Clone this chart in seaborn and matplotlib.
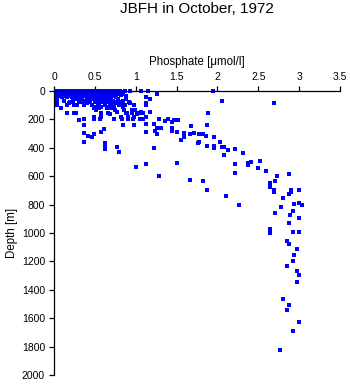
import matplotlib
matplotlib.use("Agg")
import matplotlib.pyplot as plt
import seaborn as sns
import pandas as pd

# ---------------- data (phosphate [umol/l], depth [m]) ----------------
surface_phosphate = [
    0.02, 0.06, 0.10, 0.14, 0.18, 0.22, 0.26, 0.30, 0.34, 0.38, 0.42, 0.46, 0.50, 0.54, 0.58, 0.62, 0.67, 0.72, 0.76, 0.81, 0.87, 0.93, 1.07, 1.15, 1.94,
    0.02, 0.06, 0.10, 0.14, 0.18, 0.22, 0.26, 0.30, 0.34, 0.38, 0.42, 0.46, 0.50, 0.54, 0.58, 0.63, 0.68, 0.74, 0.80, 0.85,
    0.02, 0.06, 0.10, 0.14, 0.18, 0.22, 0.26, 0.30, 0.34, 0.38, 0.42, 0.46, 0.50, 0.54, 0.58, 0.62, 0.70, 0.78, 0.83, 1.26,
    0.02, 0.06, 0.10, 0.14, 0.18, 0.22, 0.26, 0.30, 0.34, 0.38, 0.42, 0.46, 0.50, 0.54, 0.60, 0.66, 0.72, 0.82,
    0.02, 0.06, 0.10, 0.14, 0.20, 0.26, 0.30, 0.36, 0.40, 0.46, 0.50, 0.55, 0.60, 0.66, 0.74, 0.88,
    0.04, 0.10, 0.16, 0.22, 0.28, 0.34, 0.40, 0.46, 0.52, 0.56, 0.62, 0.70, 0.76, 1.12,
]
surface_depth = (
    [2] * 25 + [10] * 20 + [18] * 20 + [26] * 18 + [34] * 16 + [42] * 14
)

upper_phosphate = [
    0.26, 0.33, 0.40, 0.45, 0.50, 0.55, 0.60, 0.65, 0.70, 0.78, 0.88, 1.17,
    0.04, 0.12, 0.23, 0.30, 0.36, 0.42, 0.50, 0.55, 0.60, 0.66, 0.72, 0.78, 0.85, 2.06,
    0.20, 0.33, 0.44, 0.52, 0.58, 0.64, 0.70, 0.76, 0.82, 0.92,
    0.18, 0.40, 0.54, 0.62, 0.68, 0.75, 0.82, 0.93, 1.12, 2.69,
    0.04, 0.16, 0.25, 0.28, 0.37, 0.47, 0.55, 0.62, 0.70, 0.80, 0.87, 0.98, 1.12,
    0.50, 0.58, 0.66, 0.74, 0.84,
    0.09, 0.49, 0.55, 0.65, 0.70,
    0.52, 0.75, 0.86, 0.95, 0.99,
    0.77, 1.07, 1.17,
    0.57, 0.88, 1.04, 1.08, 1.89,
    0.16, 0.25, 0.275, 0.66, 0.89, 0.96, 1.09,
    0.68, 1.01,
    0.57, 0.58,
    0.49, 0.57, 0.82, 0.90, 0.98, 1.12,
    0.49, 0.56, 0.83, 0.90, 0.97, 1.05, 1.09,
    0.37, 0.74, 1.29, 1.40,
    0.31, 1.47, 1.52, 1.36, 1.45,
]
upper_depth = (
    [58] * 12 + [68] * 14 + [78] * 10 + [88] * 10 + [100] * 13 + [112] * 5
    + [122] * 5 + [132] * 5 + [145] * 3 + [152] * 5 + [157] * 7 + [165] * 2
    + [172] * 2 + [185] * 6 + [195] * 7 + [199] * 4
    + [204, 204, 206, 211, 218]
)

mid_phosphate = [
    0.37, 0.84, 0.98, 1.12, 1.22, 1.87, 1.68, 1.26, 1.31, 1.45, 0.61, 1.45, 1.24, 1.12,
    0.57, 1.50, 0.37, 0.49, 1.26, 1.59, 1.66, 1.71, 0.41, 0.46, 1.59, 1.78, 1.82, 1.86,
    1.96, 1.56, 0.37, 0.63, 0.63, 0.63, 1.76, 1.78, 2.03, 1.87, 1.96, 1.96, 2.05, 2.08,
    0.77, 0.80, 2.13, 2.22, 2.31, 2.08, 1.22, 1.00, 1.12, 1.50, 2.22, 2.38, 2.41, 2.38,
    2.52, 2.50, 2.59, 2.22, 2.73, 2.87, 1.28, 1.66, 1.82, 2.71, 2.64, 2.64, 1.87, 2.69,
    2.69, 2.90, 2.90, 3.00, 2.87,
]
mid_depth = [
    237, 237, 237, 235, 235, 239, 249, 263, 258, 263, 270, 282, 282, 289,
    291, 289, 298, 300, 301, 298, 303, 298, 314, 326, 322, 305, 301, 317,
    326, 347, 359, 365, 382, 410, 368, 361, 361, 389, 385, 404, 396, 396,
    395, 427, 418, 411, 439, 449, 404, 532, 516, 505, 516, 505, 500, 523,
    495, 544, 563, 580, 599, 587, 601, 629, 636, 632, 650, 674, 699, 699,
    713, 699, 713, 697, 725,
]

deep_phosphate = [
    2.10, 2.27, 2.80, 3.00, 3.03, 2.94, 2.78, 2.92, 2.71, 2.89, 3.00, 2.87, 2.64, 2.64,
    2.92, 3.00, 2.85, 2.87, 2.97, 2.94, 2.92, 2.85, 2.97, 3.00, 2.97, 2.80, 2.87, 2.85,
    3.00, 2.92, 2.76,
]
deep_depth = [
    742, 801, 756, 787, 805, 796, 815, 843, 857, 873, 897, 932, 970, 1002,
    993, 991, 1059, 1075, 1115, 1153, 1200, 1230, 1268, 1296, 1347, 1467, 1505, 1544,
    1629, 1692, 1826,
]

x_ticks = [0, 0.5, 1, 1.5, 2, 2.5, 3, 3.5]
x_tick_labels = ["0", "0.5", "1", "1.5", "2", "2.5", "3", "3.5"]
y_ticks = [0, 200, 400, 600, 800, 1000, 1200, 1400, 1600, 1800, 2000]

title_text = "JBFH in October, 1972"
x_label = "Phosphate [\u03bcmol/l]"
y_label = "Depth [m]"

df = pd.DataFrame({
    "phosphate": surface_phosphate + upper_phosphate + mid_phosphate + deep_phosphate,
    "depth": surface_depth + upper_depth + mid_depth + deep_depth,
})

# ---------------- figure ----------------
sns.set_theme(style="white")
plt.rcParams["font.family"] = ["Liberation Sans", "DejaVu Sans"]

W, H = 350, 384
fig = plt.figure(figsize=(W / 100, H / 100), dpi=100)
ax = fig.add_axes([54 / W, (H - 375) / H, 286 / W, 284 / H])

sns.scatterplot(data=df, x="phosphate", y="depth", ax=ax, marker="s",
                s=6, color="#0000ff", linewidth=0, clip_on=False)

ax.set_xlim(0, 3.5)
ax.set_ylim(2000, 0)
ax.set_xticks(x_ticks)
ax.set_xticklabels(x_tick_labels)
ax.set_yticks(y_ticks)
ax.set_yticklabels([str(v) for v in y_ticks])

ax.xaxis.tick_top()
ax.xaxis.set_label_position("top")
ax.tick_params(axis="x", which="both", direction="out", length=3.3, width=0.9,
               color="black", labelsize=7.5, pad=3.5, top=True, bottom=False,
               labeltop=True, labelbottom=False, labelcolor="black")
ax.tick_params(axis="y", which="both", direction="out", length=3.5, width=0.9,
               color="black", labelsize=7.5, pad=3, left=True, right=False,
               labelcolor="black")

for side in ("right", "bottom"):
    ax.spines[side].set_visible(False)
for side in ("top", "left"):
    ax.spines[side].set_visible(True)
    ax.spines[side].set_color("black")
    ax.spines[side].set_linewidth(0.9)

ax.set_xlabel(x_label, fontsize=8.3, labelpad=4.5, color="black")
ax.set_ylabel(y_label, fontsize=8.3, labelpad=2.5, color="black")
ax.grid(False)
ax.set_facecolor("white")

fig.text(197 / W, 1 - 12.7 / H, title_text, ha="center", va="baseline",
         fontsize=11, color="black")

fig.savefig("out.png", dpi=100, facecolor="white")
